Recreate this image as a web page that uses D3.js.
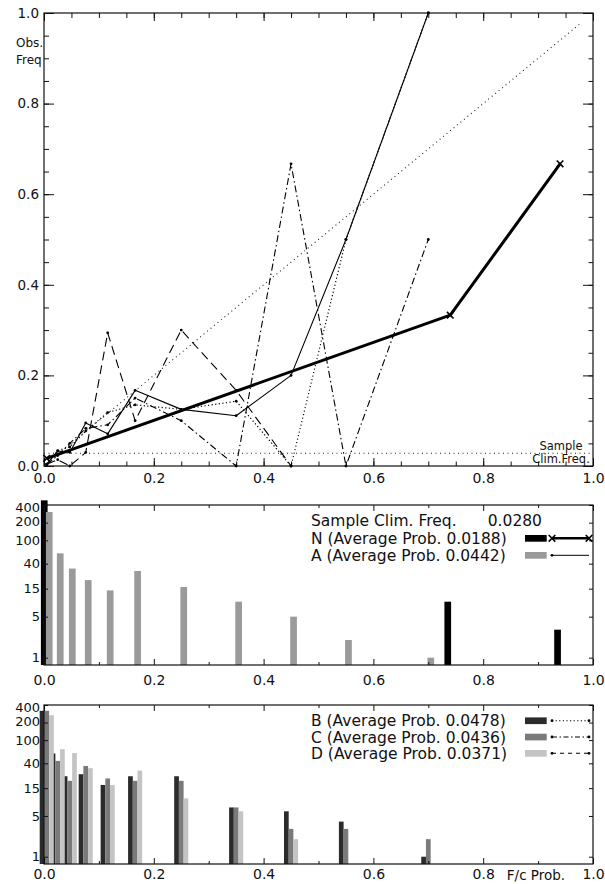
<!DOCTYPE html>
<html>
  <head>
    <meta charset="utf-8" />
    <style>
      body {
        margin: 0;
        background: #fff;
      }
      text {
        font-family: "DejaVu Sans", sans-serif;
        fill: #111;
      }
      .frame {
        fill: none;
        stroke: #111;
        stroke-width: 1.2px;
      }
      .ax line {
        stroke: #111;
      }
      .ax path {
        display: none;
      }
    </style>
  </head>
  <body>
    <svg width="605" height="884"></svg>
    <script src="https://d3js.org/d3.v7.min.js"></script>
    <script>
      // forecast probability bins (bin centres)
      var probBins = [0.005, 0.025, 0.047, 0.076, 0.116, 0.166, 0.25, 0.35, 0.45, 0.55, 0.7];
      var nBins = [0.005, 0.74, 0.94];

      // observed frequency per bin
      var nObs = [0.017, 0.333, 0.667];
      var aObs = [0.004, 0.033, 0.03, 0.095, 0.071, 0.167, 0.125, 0.111, 0.2, 0.5, 1.0];
      var bObs = [0.003, 0.034, 0.042, 0.077, 0.118, 0.135, 0.125, 0.143, 0.0, 0.5, 1.0];
      var cObs = [0.003, 0.023, 0.05, 0.083, 0.091, 0.15, 0.1, 0.0, 0.667, 0.0, 0.5];
      var dObs = [0.004, 0.014, 0.0, 0.03, 0.294, 0.1, 0.3, 0.167, 0.0, null, null];

      // number of forecasts per bin
      var nCount = [480, 9, 3];
      var aCount = [304, 60, 33, 21, 14, 30, 16, 9, 5, 2, 1];
      var bCount = [318, 59, 24, 26, 17, 24, 24, 7, 6, 4, 1];
      var cCount = [318, 44, 20, 36, 22, 20, 20, 7, 3, 3, 2];
      var dCount = [268, 70, 60, 33, 17, 30, 10, 6, 2, 0, 0];

      var climFreq = 0.028;
      var xTicks = [0, 0.2, 0.4, 0.6, 0.8, 1.0];
      var countTicks = [1, 5, 15, 40, 100, 200, 400];
      var legendMid = ["N (Average Prob. 0.0188)", "A (Average Prob. 0.0442)"];
      var legendBot = [
        "B (Average Prob. 0.0478)",
        "C (Average Prob. 0.0436)",
        "D (Average Prob. 0.0371)",
      ];

      var svg = d3.select("svg");

      var x = d3.scaleLinear().domain([0, 1]).range([44, 593]);
      var yTop = d3.scaleLinear().domain([0, 1]).range([466, 13]);
      var yMid = d3.scaleLog().domain([0.75, 400]).range([665, 505]);
      var yBot = d3.scaleLog().domain([0.75, 400]).range([864, 705]);

      function range(a, b, s) {
        return d3.range(a, b + s / 2, s).map(function (v) {
          return +v.toFixed(3);
        });
      }

      function styleAxis(g, size) {
        g.attr("class", "ax").attr("font-family", null).attr("font-size", size);
        g.selectAll("text").attr("fill", "#111");
      }

      function frame(yScale) {
        var r = yScale.range();
        svg
          .append("rect")
          .attr("class", "frame")
          .attr("x", x(0))
          .attr("y", r[1])
          .attr("width", x(1) - x(0))
          .attr("height", r[0] - r[1]);
      }

      // ---------- top panel: reliability diagram ----------
      var minorX = range(0, 1, 0.05);
      var minorY = range(0, 1, 0.05);

      svg.append("g").attr("transform", "translate(0,466)")
        .call(d3.axisBottom(x).tickValues(minorX).tickSize(-4.5).tickFormat(""))
        .call(styleAxis, 14);
      svg.append("g").attr("transform", "translate(0,466)")
        .call(d3.axisBottom(x).tickValues(xTicks).tickSize(-8).tickPadding(7).tickFormat(d3.format(".1f")))
        .call(styleAxis, 14);
      svg.append("g").attr("transform", "translate(0,13)")
        .call(d3.axisTop(x).tickValues(minorX).tickSize(-5).tickFormat(""))
        .call(styleAxis, 14);
      svg.append("g").attr("transform", "translate(0,13)")
        .call(d3.axisTop(x).tickValues(xTicks).tickSize(-8).tickFormat(""))
        .call(styleAxis, 14);
      svg.append("g").attr("transform", "translate(44,0)")
        .call(d3.axisLeft(yTop).tickValues(minorY).tickSize(-5).tickFormat(""))
        .call(styleAxis, 13.5);
      svg.append("g").attr("transform", "translate(44,0)")
        .call(d3.axisLeft(yTop).tickValues([0, 0.2, 0.4, 0.6, 0.8, 1.0]).tickSize(-10).tickPadding(5).tickFormat(d3.format(".1f")))
        .call(styleAxis, 13.5);
      svg.append("g").attr("transform", "translate(593,0)")
        .call(d3.axisRight(yTop).tickValues(minorY).tickSize(-4.5).tickFormat(""))
        .call(styleAxis, 13.5);
      svg.append("g").attr("transform", "translate(593,0)")
        .call(d3.axisRight(yTop).tickValues([0, 0.2, 0.4, 0.6, 0.8, 1.0]).tickSize(-10).tickFormat(""))
        .call(styleAxis, 13.5);
      frame(yTop);

      svg.append("text").attr("x", 16).attr("y", 47).attr("font-size", 12).text("Obs.");
      svg.append("text").attr("x", 16).attr("y", 64).attr("font-size", 12).text("Freq");

      // perfect reliability and climatology
      svg.append("line")
        .attr("x1", x(0)).attr("y1", yTop(0))
        .attr("x2", x(0.98)).attr("y2", yTop(0.98))
        .attr("stroke", "#222").attr("stroke-width", 1.1)
        .attr("stroke-dasharray", "1,3.5");
      svg.append("line")
        .attr("x1", x(0)).attr("y1", yTop(climFreq))
        .attr("x2", x(1)).attr("y2", yTop(climFreq))
        .attr("stroke", "#222").attr("stroke-width", 1.1)
        .attr("stroke-dasharray", "1,3.5");
      svg.append("text").attr("x", 561).attr("y", 450).attr("font-size", 11.5)
        .attr("text-anchor", "middle").text("Sample");
      svg.append("text").attr("x", 561).attr("y", 463).attr("font-size", 11.5)
        .attr("text-anchor", "middle").text("Clim.Freq.");

      var line = d3
        .line()
        .defined(function (d) {
          return d[1] != null;
        })
        .x(function (d) {
          return x(d[0]);
        })
        .y(function (d) {
          return yTop(d[1]);
        });

      var series = [
        { obs: bObs, bins: probBins, width: 1.2, dash: "1.2,2.4" },
        { obs: cObs, bins: probBins, width: 1.1, dash: "7,3,1.5,3" },
        { obs: dObs, bins: probBins, width: 1.1, dash: "9,5" },
        { obs: aObs, bins: probBins, width: 1.1, dash: null },
        { obs: nObs, bins: nBins, width: 3, dash: null },
      ];

      series.forEach(function (s, i) {
        var pts = s.bins.map(function (p, j) {
          return [p, s.obs[j]];
        });
        svg.append("path")
          .datum(pts)
          .attr("d", line)
          .attr("fill", "none")
          .attr("stroke", "#000")
          .attr("stroke-width", s.width)
          .attr("stroke-linejoin", "round")
          .attr("stroke-dasharray", s.dash);
        var valid = pts.filter(function (d) {
          return d[1] != null;
        });
        if (i < 4) {
          svg.append("g").selectAll("circle").data(valid).enter().append("circle")
            .attr("cx", function (d) { return x(d[0]); })
            .attr("cy", function (d) { return yTop(d[1]); })
            .attr("r", 1.4)
            .attr("fill", "#000");
        } else {
          svg.append("g").selectAll("path").data(valid).enter().append("path")
            .attr("transform", function (d) {
              return "translate(" + x(d[0]) + "," + yTop(d[1]) + ")";
            })
            .attr("d", d3.symbol(d3.symbolX, 30))
            .attr("stroke", "#000")
            .attr("stroke-width", 1.6);
        }
      });

      // ---------- histogram panels ----------
      function histAxes(yScale, labelPad) {
        var r = yScale.range();
        var minor = range(0.1, 0.9, 0.2);
        svg.append("g").attr("transform", "translate(0," + r[0] + ")")
          .call(d3.axisBottom(x).tickValues(minor).tickSize(-3).tickFormat(""))
          .call(styleAxis, 14);
        var bottom = svg.append("g").attr("transform", "translate(0," + r[0] + ")")
          .call(d3.axisBottom(x).tickValues(xTicks).tickSize(-6).tickPadding(labelPad).tickFormat(d3.format(".1f")))
          .call(styleAxis, 14);
        svg.append("g").attr("transform", "translate(0," + r[1] + ")")
          .call(d3.axisTop(x).tickValues(minor).tickSize(-3).tickFormat(""))
          .call(styleAxis, 14);
        svg.append("g").attr("transform", "translate(0," + r[1] + ")")
          .call(d3.axisTop(x).tickValues(xTicks).tickSize(-6).tickFormat(""))
          .call(styleAxis, 14);
        var left = svg.append("g").attr("transform", "translate(44,0)")
          .call(d3.axisLeft(yScale).tickValues(countTicks).tickSize(-4).tickPadding(4).tickFormat(d3.format("d")))
          .call(styleAxis, 13);
        left.selectAll("text").attr("dy", function (d) {
          return d === 400 ? "0.5em" : d === 200 ? "0.22em" : "0.32em";
        });
        svg.append("g").attr("transform", "translate(593,0)")
          .call(d3.axisRight(yScale).tickValues(countTicks).tickSize(-4).tickFormat(""))
          .call(styleAxis, 13);
        return bottom;
      }

      function bars(bins, counts, yScale, offset, width, color) {
        var base = yScale.range()[0];
        var data = bins
          .map(function (p, j) {
            return { p: p, n: counts[j] };
          })
          .filter(function (d) {
            return d.n > 0;
          });
        svg.append("g").selectAll("rect").data(data).enter().append("rect")
          .attr("x", function (d) { return x(d.p) + offset - width / 2; })
          .attr("y", function (d) { return yScale(d.n); })
          .attr("width", width)
          .attr("height", function (d) { return base - yScale(d.n); })
          .attr("fill", color);
      }

      // middle panel: N and A
      bars(nBins, nCount, yMid, -2.5, 6.7, "#000");
      bars(probBins, aCount, yMid, 2.5, 6.7, "#9a9a9a");
      histAxes(yMid, 10);
      frame(yMid);

      svg.append("text").attr("x", 311).attr("y", 526.3).attr("font-size", 15.5).text("Sample Clim. Freq.");
      svg.append("text").attr("x", 542).attr("y", 526.3).attr("font-size", 15.5)
        .attr("text-anchor", "end").text(d3.format(".4f")(climFreq));

      var midColors = ["#000", "#9a9a9a"];
      legendMid.forEach(function (t, i) {
        var cy = 538.3 + i * 17;
        svg.append("text").attr("x", 311).attr("y", cy + 5.6).attr("font-size", 15.5).text(t);
        svg.append("rect").attr("x", 525).attr("y", cy - 3.3).attr("width", 21.7).attr("height", 6.7)
          .attr("fill", midColors[i]);
        svg.append("line").attr("x1", 552).attr("x2", 589).attr("y1", cy).attr("y2", cy)
          .attr("stroke", "#000").attr("stroke-width", i === 0 ? 2.6 : 1);
      });
      svg.append("g").selectAll("path").data([552, 589]).enter().append("path")
        .attr("transform", function (d) { return "translate(" + d + ",538.3)"; })
        .attr("d", d3.symbol(d3.symbolX, 30))
        .attr("stroke", "#000").attr("stroke-width", 1.6);
      svg.append("circle").attr("cx", 552).attr("cy", 555.3).attr("r", 1.4).attr("fill", "#000");

      // bottom panel: B, C and D
      bars(probBins, bCount, yBot, -4.7, 4.7, "#2b2b2b");
      bars(probBins, cCount, yBot, 0, 4.7, "#7a7a7a");
      bars(probBins, dCount, yBot, 4.7, 4.7, "#c4c4c4");
      histAxes(yBot, 5);
      frame(yBot);
      svg.append("text").attr("x", 536).attr("y", 879.5).attr("font-size", 13.5)
        .attr("text-anchor", "middle").text("F/c Prob.");

      var botColors = ["#2b2b2b", "#7a7a7a", "#c4c4c4"];
      var botDash = ["1.2,2.4", "5,2.5,1.5,2.5", "4,4"];
      legendBot.forEach(function (t, i) {
        var cy = 720.7 + i * 16.3;
        svg.append("text").attr("x", 311).attr("y", cy + 5.6).attr("font-size", 15.5).text(t);
        svg.append("rect").attr("x", 525).attr("y", cy - 3.3).attr("width", 21.7).attr("height", 6.7)
          .attr("fill", botColors[i]);
        svg.append("line").attr("x1", 552).attr("x2", 589).attr("y1", cy).attr("y2", cy)
          .attr("stroke", "#000").attr("stroke-width", 1.1).attr("stroke-dasharray", botDash[i]);
        svg.append("g").selectAll("circle").data([552, 589]).enter().append("circle")
          .attr("cx", function (d) { return d; }).attr("cy", cy).attr("r", 1.4).attr("fill", "#000");
      });
    </script>
  </body>
</html>
